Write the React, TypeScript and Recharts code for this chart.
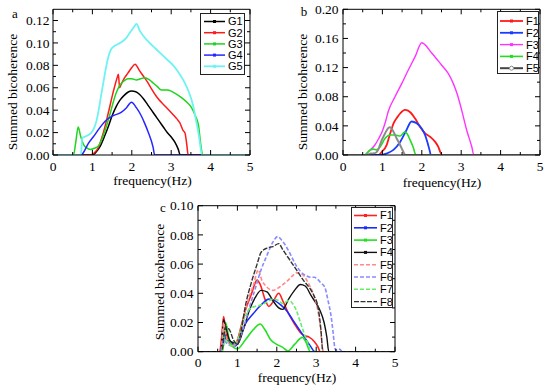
import React from 'react';
import { LineChart, Line, XAxis, YAxis } from 'recharts';

type Pt = [number, number];

// ---------- shared axis values ----------
const FREQ_TICKS = [0, 0.5, 1, 1.5, 2, 2.5, 3, 3.5, 4, 4.5, 5];
const A_Y_TICKS = [0, 0.01, 0.02, 0.03, 0.04, 0.05, 0.06, 0.07, 0.08, 0.09, 0.1, 0.11, 0.12];
const B_Y_TICKS = [0, 0.02, 0.04, 0.06, 0.08, 0.1, 0.12, 0.14, 0.16, 0.18, 0.2];
const C_Y_TICKS = [0, 0.01, 0.02, 0.03, 0.04, 0.05, 0.06, 0.07, 0.08, 0.09, 0.1];

// ---------- panel a ----------
const A_G1: Pt[] = [[0, 0], [1.0, 0], [1.1, 0.003], [1.2, 0.008], [1.3, 0.016], [1.4, 0.025], [1.5, 0.035], [1.6, 0.043], [1.7, 0.049], [1.8, 0.053], [1.9, 0.056], [2.0, 0.057], [2.1, 0.0565], [2.2, 0.054], [2.3, 0.05], [2.4, 0.045], [2.5, 0.04], [2.6, 0.035], [2.7, 0.03], [2.8, 0.025], [2.9, 0.02], [3.0, 0.016], [3.1, 0.011], [3.18, 0.005], [3.23, 0], [5, 0]];
const A_G2: Pt[] = [[0, 0], [0.95, 0], [1.05, 0.002], [1.14, 0.006], [1.27, 0.019], [1.4, 0.037], [1.52, 0.055], [1.62, 0.068], [1.66, 0.072], [1.69, 0.06], [1.73, 0.063], [1.8, 0.068], [1.9, 0.073], [2.0, 0.078], [2.08, 0.081], [2.2, 0.075], [2.3, 0.07], [2.4, 0.065], [2.5, 0.059], [2.63, 0.052], [2.75, 0.047], [2.89, 0.042], [3.05, 0.036], [3.15, 0.032], [3.22, 0.0286], [3.3, 0.022], [3.35, 0.0196], [3.4, 0.008], [3.43, 0], [5, 0]];
const A_G3: Pt[] = [[0, 0], [0.52, 0], [0.58, 0.012], [0.64, 0.025], [0.7, 0.017], [0.78, 0.009], [0.85, 0.0065], [0.95, 0.005], [1.05, 0.006], [1.15, 0.008], [1.25, 0.015], [1.35, 0.025], [1.45, 0.037], [1.52, 0.046], [1.6, 0.055], [1.69, 0.062], [1.8, 0.066], [1.9, 0.068], [2.0, 0.068], [2.12, 0.067], [2.22, 0.068], [2.33, 0.069], [2.45, 0.067], [2.55, 0.064], [2.65, 0.061], [2.75, 0.058], [2.9, 0.058], [3.0, 0.057], [3.1, 0.055], [3.27, 0.051], [3.4, 0.047], [3.52, 0.042], [3.6, 0.036], [3.69, 0.027], [3.75, 0.0095], [3.8, 0], [5, 0]];
const A_G4: Pt[] = [[0, 0], [0.72, 0], [0.76, 0.0015], [0.89, 0.01], [1.02, 0.016], [1.18, 0.024], [1.35, 0.031], [1.52, 0.035], [1.73, 0.038], [1.86, 0.042], [1.99, 0.047], [2.12, 0.042], [2.24, 0.035], [2.33, 0.028], [2.41, 0.021], [2.54, 0.007], [2.58, 0], [5, 0]];
const A_G5: Pt[] = [[0, 0], [0.71, 0], [0.74, 0.015], [0.85, 0.017], [0.95, 0.019], [1.03, 0.023], [1.1, 0.03], [1.16, 0.04], [1.22, 0.053], [1.28, 0.065], [1.34, 0.077], [1.4, 0.087], [1.47, 0.094], [1.55, 0.097], [1.65, 0.099], [1.75, 0.101], [1.85, 0.104], [1.95, 0.109], [2.05, 0.114], [2.12, 0.117], [2.2, 0.111], [2.3, 0.106], [2.45, 0.1], [2.6, 0.095], [2.75, 0.09], [2.9, 0.085], [3.05, 0.08], [3.2, 0.073], [3.35, 0.064], [3.45, 0.056], [3.55, 0.045], [3.63, 0.031], [3.7, 0.018], [3.74, 0.008], [3.78, 0], [5, 0]];

// ---------- panel b ----------
const B_F1: Pt[] = [[0, 0], [0.9, 0], [0.98, 0.004], [1.11, 0.014], [1.2, 0.03], [1.28, 0.043], [1.38, 0.052], [1.45, 0.057], [1.57, 0.062], [1.65, 0.061], [1.72, 0.058], [1.83, 0.05], [1.95, 0.039], [2.08, 0.03], [2.21, 0.025], [2.34, 0.018], [2.42, 0.011], [2.47, 0.004], [2.52, 0], [5, 0]];
const B_F2: Pt[] = [[0, 0], [0.95, 0], [1.1, 0.002], [1.28, 0.007], [1.45, 0.018], [1.6, 0.033], [1.74, 0.046], [1.87, 0.0435], [2.0, 0.036], [2.08, 0.028], [2.15, 0.016], [2.2, 0.006], [2.23, 0], [5, 0]];
const B_F3: Pt[] = [[0, 0], [0.55, 0], [0.64, 0.0045], [0.8, 0.013], [0.9, 0.022], [1.0, 0.033], [1.08, 0.046], [1.15, 0.06], [1.32, 0.08], [1.49, 0.098], [1.66, 0.117], [1.83, 0.135], [2.0, 0.154], [2.25, 0.14], [2.5, 0.1235], [2.67, 0.112], [2.8, 0.098], [2.89, 0.085], [3.01, 0.062], [3.14, 0.034], [3.27, 0.011], [3.32, 0], [5, 0]];
const B_F4: Pt[] = [[0, 0], [0.55, 0], [0.62, 0.003], [0.69, 0.007], [0.77, 0.008], [0.85, 0.007], [0.94, 0.011], [1.07, 0.023], [1.19, 0.0275], [1.32, 0.0275], [1.45, 0.026], [1.57, 0.032], [1.63, 0.029], [1.7, 0.021], [1.78, 0.011], [1.85, 0], [5, 0]];
const B_F5: Pt[] = [[0, 0], [0.6, 0], [0.7, 0.002], [0.8, 0.0023], [0.89, 0.007], [0.98, 0.02], [1.07, 0.03], [1.15, 0.037], [1.19, 0.038], [1.28, 0.032], [1.36, 0.023], [1.45, 0.0137], [1.53, 0.0046], [1.58, 0], [5, 0]];

// ---------- panel c ----------
const C_F1: Pt[] = [[0, 0], [0.55, 0], [0.6, 0.01], [0.65, 0.024], [0.7, 0.015], [0.77, 0.007], [0.9, 0.004], [1.0, 0.008], [1.1, 0.018], [1.2, 0.028], [1.35, 0.039], [1.5, 0.049], [1.58, 0.046], [1.7, 0.036], [1.8, 0.031], [1.9, 0.034], [2.05, 0.04], [2.15, 0.035], [2.3, 0.026], [2.45, 0.019], [2.6, 0.013], [2.7, 0.011], [2.82, 0.01], [2.95, 0.007], [3.05, 0.003], [3.1, 0], [5, 0]];
const C_F2: Pt[] = [[0, 0], [0.58, 0], [0.62, 0.008], [0.66, 0.013], [0.72, 0.008], [0.85, 0.006], [0.95, 0.004], [1.05, 0.009], [1.2, 0.019], [1.4, 0.026], [1.6, 0.032], [1.8, 0.036], [1.95, 0.035], [2.1, 0.032], [2.25, 0.028], [2.4, 0.022], [2.55, 0.016], [2.7, 0.01], [2.85, 0.004], [2.97, 0], [5, 0]];
const C_F3: Pt[] = [[0, 0], [0.62, 0], [0.7, 0.02], [0.78, 0.01], [0.9, 0.003], [1.0, 0.002], [1.2, 0.008], [1.4, 0.015], [1.58, 0.019], [1.7, 0.015], [1.85, 0.008], [2.0, 0.005], [2.15, 0.003], [2.28, 0.0005], [2.45, 0.005], [2.65, 0.0098], [2.75, 0.006], [2.85, 0], [5, 0]];
const C_F4: Pt[] = [[0, 0], [0.58, 0], [0.65, 0.022], [0.72, 0.015], [0.8, 0.008], [0.9, 0.006], [1.0, 0.005], [1.15, 0.015], [1.3, 0.028], [1.45, 0.037], [1.6, 0.042], [1.75, 0.041], [1.9, 0.035], [2.05, 0.03], [2.15, 0.029], [2.3, 0.036], [2.45, 0.042], [2.6, 0.046], [2.72, 0.045], [2.88, 0.038], [3.0, 0.033], [3.1, 0.028], [3.2, 0.02], [3.27, 0.01], [3.32, 0], [5, 0]];
const C_F5: Pt[] = [[0, 0], [0.58, 0], [0.65, 0.02], [0.72, 0.01], [0.85, 0.004], [1.0, 0.006], [1.1, 0.015], [1.2, 0.028], [1.3, 0.038], [1.4, 0.045], [1.53, 0.056], [1.62, 0.049], [1.74, 0.0445], [1.9, 0.042], [2.08, 0.0445], [2.25, 0.048], [2.4, 0.052], [2.5, 0.054], [2.65, 0.053], [2.8, 0.047], [2.92, 0.04], [3.02, 0.031], [3.1, 0.018], [3.15, 0.005], [3.18, 0], [5, 0]];
const C_F6: Pt[] = [[0, 0], [0.58, 0], [0.65, 0.008], [0.72, 0.006], [0.85, 0.004], [1.0, 0.006], [1.15, 0.016], [1.3, 0.03], [1.45, 0.043], [1.6, 0.056], [1.75, 0.066], [1.9, 0.075], [2.02, 0.0788], [2.12, 0.0765], [2.29, 0.0696], [2.46, 0.0605], [2.6, 0.055], [2.75, 0.052], [2.85, 0.051], [2.95, 0.051], [3.02, 0.05], [3.12, 0.047], [3.22, 0.044], [3.3, 0.035], [3.38, 0.024], [3.43, 0.013], [3.47, 0.003], [3.5, 0.001], [3.56, 0.0018], [3.62, 0.0012], [3.66, 0], [5, 0]];
const C_F7: Pt[] = [[0, 0], [0.6, 0], [0.7, 0.008], [0.85, 0.004], [1.0, 0.008], [1.15, 0.021], [1.3, 0.029], [1.45, 0.031], [1.6, 0.032], [1.75, 0.034], [1.9, 0.036], [2.05, 0.035], [2.15, 0.033], [2.3, 0.035], [2.4, 0.033], [2.5, 0.028], [2.6, 0.02], [2.7, 0.012], [2.8, 0.005], [2.87, 0], [5, 0]];
const C_F8: Pt[] = [[0, 0], [0.6, 0], [0.7, 0.017], [0.8, 0.015], [0.9, 0.008], [1.0, 0.005], [1.1, 0.015], [1.2, 0.031], [1.35, 0.047], [1.5, 0.06], [1.6, 0.068], [1.75, 0.071], [1.9, 0.072], [2.05, 0.074], [2.15, 0.07], [2.3, 0.064], [2.5, 0.056], [2.7, 0.048], [2.85, 0.043], [2.95, 0.038], [3.05, 0.03], [3.12, 0.015], [3.17, 0], [5, 0]];

type Series = { name: string; pts: Pt[]; color: string; legendColor?: string; dash?: string; width: number; marker?: 'square' | 'circle' | 'none' };

const SERIES_A: Series[] = [
  { name: 'G1', pts: A_G1, color: '#000000', width: 1.5, marker: 'square' },
  { name: 'G2', pts: A_G2, color: '#ff1a1a', width: 1.5, marker: 'square' },
  { name: 'G3', pts: A_G3, color: '#1ed41e', width: 1.5, marker: 'square' },
  { name: 'G4', pts: A_G4, color: '#2626ff', width: 1.5, marker: 'square' },
  { name: 'G5', pts: A_G5, color: '#6ef2f2', width: 1.8, marker: 'square' },
];
const SERIES_B: Series[] = [
  { name: 'F1', pts: B_F1, color: '#ff1a1a', width: 1.8, marker: 'square' },
  { name: 'F2', pts: B_F2, color: '#1a3cff', width: 1.8, marker: 'square' },
  { name: 'F3', pts: B_F3, color: '#ff33ff', width: 1.4, marker: 'square' },
  { name: 'F4', pts: B_F4, color: '#22dd22', width: 1.6, marker: 'square' },
  { name: 'F5', pts: B_F5, color: '#8c8c8c', legendColor: '#444444', width: 2, marker: 'circle' },
];
const SERIES_C: Series[] = [
  { name: 'F1', pts: C_F1, color: '#ff2020', width: 1.6, marker: 'square' },
  { name: 'F2', pts: C_F2, color: '#1a2cff', width: 1.6, marker: 'square' },
  { name: 'F3', pts: C_F3, color: '#22e022', width: 1.6, marker: 'square' },
  { name: 'F4', pts: C_F4, color: '#111111', width: 1.4, marker: 'square' },
  { name: 'F5', pts: C_F5, color: '#ff8a8a', width: 1.6, dash: '4 2', marker: 'none' },
  { name: 'F6', pts: C_F6, color: '#8a8aff', width: 1.6, dash: '4 2', marker: 'none' },
  { name: 'F7', pts: C_F7, color: '#66ee66', width: 1.6, dash: '4 2', marker: 'none' },
  { name: 'F8', pts: C_F8, color: '#333333', width: 1.4, dash: '5 1.5', marker: 'none' },
];

const SERIF = '"Liberation Serif", "Times New Roman", serif';
const SANS = '"Liberation Sans", Arial, sans-serif';

const toRows = (pts: Pt[]) => pts.map(([f, v]) => ({ f, v }));
const isMajor = (v: number, step: number) => Math.abs(v / step - Math.round(v / step)) < 1e-6;

type PanelProps = {
  left: number; top: number; width: number; height: number;
  plot: { x0: number; y0: number; x1: number; y1: number };
  yDomain: [number, number]; yTicks: number[]; yMajor: number; labelGap: number;
  series: Series[];
};

function Panel(p: PanelProps) {
  const margin = {
    left: p.plot.x0 - 1,
    top: p.plot.y0 - 1,
    right: p.width - p.plot.x1 - 1,
    bottom: p.height - p.plot.y1 - 1,
  };
  const xBottom = (props: any) => {
    const { x, y, payload } = props;
    const M = isMajor(payload.value, 1);
    return (
      <g>
        <line x1={x} x2={x} y1={y} y2={y - (M ? 5 : 3)} stroke="#000" strokeWidth={1} />
        {M && (
          <text x={x} y={y + 15.5} textAnchor="middle" fontFamily={SERIF} fontSize={13.5} fill="#000">
            {String(payload.value)}
          </text>
        )}
      </g>
    );
  };
  const xTop = (props: any) => {
    const { x, y, payload } = props;
    const M = isMajor(payload.value, 1);
    return <line x1={x} x2={x} y1={y} y2={y + (M ? 5 : 3)} stroke="#000" strokeWidth={1} />;
  };
  const yLeft = (props: any) => {
    const { x, y, payload } = props;
    const M = isMajor(payload.value, p.yMajor);
    return (
      <g>
        <line x1={x} x2={x + (M ? 5 : 3)} y1={y} y2={y} stroke="#000" strokeWidth={1} />
        {M && (
          <text x={x - p.labelGap} y={y} dy="0.35em" textAnchor="end" fontFamily={SERIF} fontSize={13.5} fill="#000">
            {Number(payload.value).toFixed(2)}
          </text>
        )}
      </g>
    );
  };
  const yRight = (props: any) => {
    const { x, y, payload } = props;
    const M = isMajor(payload.value, p.yMajor);
    return <line x1={x} x2={x - (M ? 5 : 3)} y1={y} y2={y} stroke="#000" strokeWidth={1} />;
  };
  const axisLine = { stroke: '#000', strokeWidth: 1 };
  return (
    <div style={{ position: 'absolute', left: p.left, top: p.top, width: p.width, height: p.height }}>
      <LineChart width={p.width} height={p.height} margin={margin}>
        <XAxis xAxisId="b" dataKey="f" type="number" domain={[0, 5]} ticks={FREQ_TICKS} interval={0}
          height={1} tickSize={0} tickMargin={0} tickLine={false} axisLine={axisLine}
          tick={xBottom} allowDataOverflow />
        <XAxis xAxisId="t" orientation="top" dataKey="f" type="number" domain={[0, 5]} ticks={FREQ_TICKS} interval={0}
          height={1} tickSize={0} tickMargin={0} tickLine={false} axisLine={axisLine}
          tick={xTop} allowDataOverflow />
        <YAxis yAxisId="l" type="number" domain={p.yDomain} ticks={p.yTicks} interval={0}
          width={1} tickSize={0} tickMargin={0} tickLine={false} axisLine={axisLine}
          tick={yLeft} allowDataOverflow />
        <YAxis yAxisId="r" orientation="right" type="number" domain={p.yDomain} ticks={p.yTicks} interval={0}
          width={1} tickSize={0} tickMargin={0} tickLine={false} axisLine={axisLine}
          tick={yRight} allowDataOverflow />
        {p.series.map((s) => (
          <Line key={s.name} xAxisId="b" yAxisId="l" data={toRows(s.pts)} dataKey="v" type="monotone"
            stroke={s.color} strokeWidth={s.width} strokeDasharray={s.dash} dot={false} activeDot={false}
            isAnimationActive={false} />
        ))}
        <Line xAxisId="t" yAxisId="r" data={toRows([[0, 0], [5, 0]])} dataKey="v" stroke="none" dot={false} activeDot={false} isAnimationActive={false} />
      </LineChart>
    </div>
  );
}

type LegendProps = { left: number; top: number; width: number; height: number; start: number; step: number; lineX1: number; lineX2: number; textX: number; series: Series[] };

function LegendBox(l: LegendProps) {
  return (
    <div style={{ position: 'absolute', left: l.left, top: l.top, width: l.width, height: l.height, border: '1px solid #222', boxSizing: 'border-box', background: '#fff' }}>
      <svg width={l.width - 2} height={l.height - 2} style={{ display: 'block' }}>
        {l.series.map((s, i) => {
          const y = l.start + i * l.step;
          const c = s.legendColor || s.color;
          const mx = (l.lineX1 + l.lineX2) / 2;
          return (
            <g key={s.name}>
              <line x1={l.lineX1} x2={l.lineX2} y1={y} y2={y} stroke={c} strokeWidth={s.width} strokeDasharray={s.dash} />
              {s.marker === 'square' && <rect x={mx - 1.5} y={y - 1.5} width={3} height={3} fill={c} />}
              {s.marker === 'circle' && <circle cx={mx} cy={y} r={2} fill="#fff" stroke={s.color} strokeWidth={1} />}
              <text x={l.textX} y={y} dy="0.36em" fontFamily={SANS} fontSize={11} fill="#000">{s.name}</text>
            </g>
          );
        })}
      </svg>
    </div>
  );
}

const Txt = ({ x, y, children, size = 13.5, rotate = false, family = SERIF }: any) => (
  <div style={{
    position: 'absolute', left: x, top: y, transform: `translate(-50%, -50%)${rotate ? ' rotate(-90deg)' : ''}`,
    whiteSpace: 'nowrap', fontFamily: family, fontSize: size, lineHeight: 1, color: '#000',
  }}>{children}</div>
);

export default function App() {
  return (
    <div style={{ position: 'absolute', left: 0, top: 0, width: 550, height: 391, background: '#fff', overflow: 'hidden' }}>
      <Panel left={0} top={0} width={275} height={195} plot={{ x0: 53, y0: 9.3, x1: 250, y1: 155 }}
        yDomain={[0, 0.13]} yTicks={A_Y_TICKS} yMajor={0.02} labelGap={3.5} series={SERIES_A} />
      <Panel left={275} top={0} width={275} height={195} plot={{ x0: 68, y0: 9.3, x1: 265, y1: 155 }}
        yDomain={[0, 0.2]} yTicks={B_Y_TICKS} yMajor={0.04} labelGap={4.5} series={SERIES_B} />
      <Panel left={130} top={195} width={290} height={196} plot={{ x0: 68, y0: 10.7, x1: 265, y1: 156.7 }}
        yDomain={[0, 0.1]} yTicks={C_Y_TICKS} yMajor={0.02} labelGap={4.5} series={SERIES_C} />

      <LegendBox left={200} top={13} width={45} height={62} start={7.5} step={11.2} lineX1={3} lineX2={24} textX={27} series={SERIES_A} />
      <LegendBox left={497} top={10.7} width={42} height={63.3} start={9} step={11.8} lineX1={2} lineX2={25} textX={28} series={SERIES_B} />
      <LegendBox left={351} top={207} width={42} height={101} start={7.5} step={12.3} lineX1={2} lineX2={25} textX={28} series={SERIES_C} />

      <Txt x={15} y={13} size={13}>a</Txt>
      <Txt x={304} y={11} size={13}>b</Txt>
      <Txt x={163} y={207} size={13}>c</Txt>

      <Txt x={12.5} y={91.5} rotate>Summed bicoherence</Txt>
      <Txt x={303} y={91.5} rotate>Summed bicoherence</Txt>
      <Txt x={160} y={281.5} rotate>Summed bicoherence</Txt>

      <Txt x={152.5} y={181.3}>frequency(Hz)</Txt>
      <Txt x={442} y={182.7}>frequency(Hz)</Txt>
      <Txt x={297} y={378.3}>frequency(Hz)</Txt>
    </div>
  );
}
